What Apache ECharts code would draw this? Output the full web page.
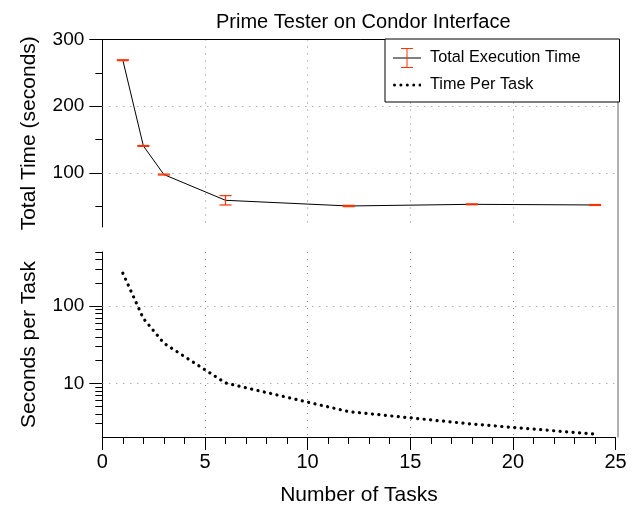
<!DOCTYPE html>
<html>
<head>
<meta charset="utf-8">
<script src="https://cdn.jsdelivr.net/npm/echarts@6/dist/echarts.min.js"></script>
<style>html,body{margin:0;padding:0;background:#fff;}#c{width:637px;height:508px;}</style>
</head>
<body>
<div id="c"></div>
<script>
// ---- data ----
const tasks = [1, 2, 3, 6, 12, 18, 24];
const totalTime = [269, 140.5, 97.6, 59, 50.5, 53, 52];
const totalLow = [268.3, 139.8, 96.9, 52, 49.5, 52.3, 51.3];
const totalHigh = [269.7, 141.2, 98.3, 66, 51.5, 53.7, 52.7];
const perTask = [266, 69, 33, 10.1, 4.3, 2.97, 2.2];
const xTicks = [0, 5, 10, 15, 20, 25];
const topMajor = [100, 200, 300];
const topMinor = [50, 150, 250];
const logMajor = [10, 100];
const logMinor = [3, 4, 5, 6, 7, 8, 9, 20, 30, 40, 50, 60, 70, 80, 90, 200, 300, 400, 500];
const titleText = 'Prime Tester on Condor Interface';

const FONT = 'Liberation Sans';
const RED = '#ff3300';
const GRIDC = '#8a8a8a';

const svg1 = '<svg xmlns="http://www.w3.org/2000/svg" width="28" height="20"><line x1="0" y1="10" x2="28" y2="10" stroke="#000" stroke-width="1"/><line x1="14" y1="0.5" x2="14" y2="19.5" stroke="' + RED + '" stroke-width="1"/><line x1="8" y1="0.5" x2="20" y2="0.5" stroke="' + RED + '" stroke-width="1"/><line x1="8" y1="19.5" x2="20" y2="19.5" stroke="' + RED + '" stroke-width="1"/></svg>';
const svg2 = '<svg xmlns="http://www.w3.org/2000/svg" width="28" height="20"><circle cx="1.5" cy="10" r="1.5" fill="#000"/><circle cx="7.9" cy="10" r="1.5" fill="#000"/><circle cx="14.3" cy="10" r="1.5" fill="#000"/><circle cx="20.7" cy="10" r="1.5" fill="#000"/><circle cx="27" cy="10" r="1.5" fill="#000"/></svg>';
const icon1 = 'image://data:image/svg+xml;charset=utf-8,' + encodeURIComponent(svg1);
const icon2 = 'image://data:image/svg+xml;charset=utf-8,' + encodeURIComponent(svg2);

const L = 102.3, Rdata = 637 - 615.6, Rframe = 19;
const chart = echarts.init(document.getElementById('c'), null, {renderer: 'canvas'});

const dotted = {color: GRIDC, width: 1, type: [1, 6]};
const noShow = {show: false};

const option = {
  animation: false,
  backgroundColor: '#fff',
  textStyle: {fontFamily: FONT},
  title: {
    text: titleText, left: 211, top: 7,
    textStyle: {fontFamily: FONT, fontSize: 20, fontWeight: 'normal', color: '#000'}
  },
  legend: {
    left: 385, top: 39, orient: 'vertical',
    itemWidth: 28, itemHeight: 20, itemGap: 7,
    padding: [9, 39, 7, 8],
    borderColor: '#000', borderWidth: 1, backgroundColor: '#fff',
    textStyle: {fontFamily: FONT, fontSize: 16.3, color: '#000', padding: [0, 0, 0, 4]},
    data: [{name: 'Total Execution Time', icon: icon1}, {name: 'Time Per Task', icon: icon2}],
    z: 10
  },
  grid: [
    {left: L, right: Rdata, top: 39.5, height: 187.5},
    {left: L, right: Rdata, top: 252, height: 185},
    {left: L, right: Rframe, top: 39.5, height: 397.5}
  ],
  xAxis: [
    {gridIndex: 0, type: 'value', min: xTicks[0], max: xTicks[xTicks.length - 1], interval: 5,
     axisLine: noShow, axisTick: noShow, axisLabel: noShow,
     splitLine: {show: true, showMinLine: false, showMaxLine: false, lineStyle: dotted}},
    {gridIndex: 1, type: 'value', min: xTicks[0], max: xTicks[xTicks.length - 1], interval: 5,
     position: 'bottom',
     name: 'Number of Tasks', nameLocation: 'middle', nameGap: 48,
     nameTextStyle: {fontFamily: FONT, fontSize: 21, color: '#000'},
     axisLine: {show: true, onZero: false, lineStyle: {color: '#000', width: 1}},
     axisTick: {show: true, inside: false, length: 13, lineStyle: {color: '#000'}},
     minorTick: {show: true, splitNumber: 5, length: 7, lineStyle: {color: '#000'}},
     axisLabel: {fontFamily: FONT, fontSize: 20, color: '#000', margin: 15},
     splitLine: {show: true, showMinLine: false, showMaxLine: false, lineStyle: dotted}},
    {gridIndex: 2, type: 'value', min: 0, max: 1, position: 'top',
     axisLine: {show: true, onZero: false, lineStyle: {color: '#000', width: 1}},
     axisTick: noShow, axisLabel: noShow, splitLine: noShow}
  ],
  yAxis: [
    {gridIndex: 0, type: 'value', min: 19, max: 300, position: 'left',
     name: 'Total Time (seconds)', nameLocation: 'middle', nameGap: 63,
     nameTextStyle: {fontFamily: FONT, fontSize: 21, color: '#000'},
     axisLine: {show: true, onZero: false, lineStyle: {color: '#000', width: 1}},
     axisTick: {show: true, inside: false, length: 13, customValues: topMajor, lineStyle: {color: '#000'}},
     axisLabel: {fontFamily: FONT, fontSize: 19, color: '#000', margin: 18, customValues: topMajor},
     splitLine: noShow},
    {gridIndex: 0, type: 'value', min: 19, max: 300, position: 'left', offset: 0,
     axisLine: {show: false, onZero: false},
     axisTick: {show: true, inside: false, length: 7, customValues: topMinor, lineStyle: {color: '#000'}},
     axisLabel: noShow, splitLine: noShow},
    {gridIndex: 1, type: 'log', logBase: 10, min: 2.02, max: 500, position: 'left',
     name: 'Seconds per Task', nameLocation: 'middle', nameGap: 63,
     nameTextStyle: {fontFamily: FONT, fontSize: 21, color: '#000'},
     axisLine: {show: true, onZero: false, lineStyle: {color: '#000', width: 1}},
     axisTick: {show: true, inside: false, length: 13, customValues: logMajor, lineStyle: {color: '#000'}},
     axisLabel: {fontFamily: FONT, fontSize: 19, color: '#000', margin: 18, customValues: logMajor},
     splitLine: noShow},
    {gridIndex: 1, type: 'log', logBase: 10, min: 2.02, max: 500, position: 'left', offset: 0,
     axisLine: {show: false, onZero: false},
     axisTick: {show: true, inside: false, length: 7, customValues: logMinor, lineStyle: {color: '#000'}},
     axisLabel: noShow, splitLine: noShow},
    {gridIndex: 2, type: 'value', min: 0, max: 1, position: 'right',
     axisLine: {show: true, onZero: false, lineStyle: {color: '#999', width: 1.5}},
     axisTick: noShow, axisLabel: noShow, splitLine: noShow}
  ],
  series: [
    {
      name: 'Total Execution Time', type: 'line', xAxisIndex: 0, yAxisIndex: 0,
      data: tasks.map((t, i) => [t, totalTime[i]]),
      symbol: 'none', lineStyle: {color: '#000', width: 1},
      itemStyle: {color: '#000'},
      markLine: {
        silent: true, symbol: 'none', label: {show: false},
        lineStyle: {color: GRIDC, width: 1, type: [1, 6]},
        data: [{yAxis: 100}, {yAxis: 200}]
      },
      z: 3
    },
    {
      name: 'Total Execution Time', type: 'custom', xAxisIndex: 0, yAxisIndex: 0,
      data: tasks.map((t, i) => [t, totalLow[i], totalHigh[i]]),
      itemStyle: {color: RED},
      renderItem: function (params, api) {
        const x = api.value(0);
        const lo = api.coord([x, api.value(1)]);
        const hi = api.coord([x, api.value(2)]);
        const hw = 6;
        const st = {stroke: RED, lineWidth: 1.2};
        return {
          type: 'group',
          children: [
            {type: 'line', shape: {x1: lo[0], y1: lo[1], x2: hi[0], y2: hi[1]}, style: st},
            {type: 'line', shape: {x1: lo[0] - hw, y1: lo[1], x2: lo[0] + hw, y2: lo[1]}, style: st},
            {type: 'line', shape: {x1: hi[0] - hw, y1: hi[1], x2: hi[0] + hw, y2: hi[1]}, style: st}
          ]
        };
      },
      z: 4
    },
    {
      name: 'Time Per Task', type: 'line', xAxisIndex: 1, yAxisIndex: 2,
      data: tasks.map((t, i) => [t, perTask[i]]),
      symbol: 'none',
      lineStyle: {color: '#000', width: 3.2, type: [0.1, 6.4], cap: 'round'},
      itemStyle: {color: '#000'},
      markLine: {
        silent: true, symbol: 'none', label: {show: false},
        lineStyle: {color: GRIDC, width: 1, type: [1, 6]},
        data: [{yAxis: 10}, {yAxis: 100}]
      },
      z: 3
    }
  ]
};
chart.setOption(option);
</script>
</body>
</html>
